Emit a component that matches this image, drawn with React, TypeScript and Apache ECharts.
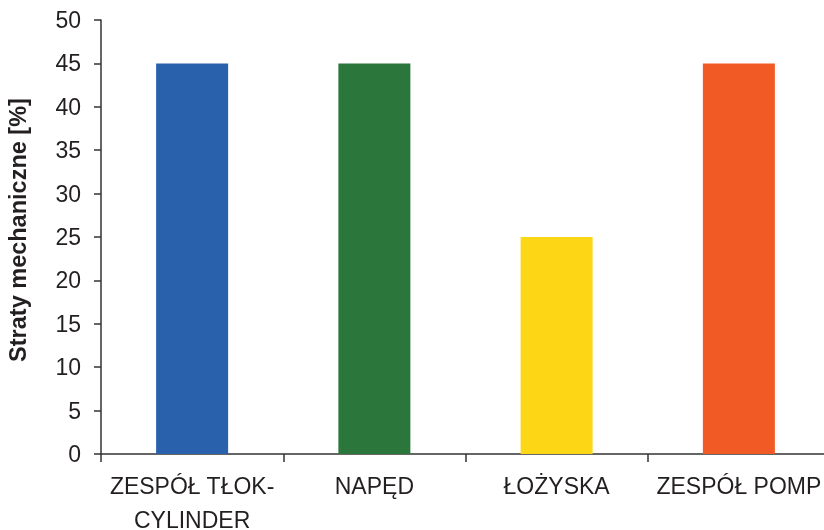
import React, { useEffect, useRef } from "react";
import * as echarts from "echarts";

const categories = ["ZESPÓŁ TŁOK-\nCYLINDER", "NAPĘD", "ŁOŻYSKA", "ZESPÓŁ POMP"];
const losses = [45, 45, 25, 45];
const barColors = ["#2a61ac", "#2b773b", "#fdd616", "#f15a24"];
const yTicks = { min: 0, max: 50, interval: 5 };

export default function App() {
  const ref = useRef<HTMLDivElement>(null);

  useEffect(() => {
    if (!ref.current) return;
    document.body.style.margin = "0";
    const chart = echarts.init(ref.current, undefined, { renderer: "svg" });
    const font = "Liberation Sans, Arial, sans-serif";
    chart.setOption({
      animation: false,
      grid: {
        left: 101,
        top: 20,
        bottom: 76,
        right: -6,
        containLabel: false,
        outerBoundsMode: "none",
      },
      xAxis: {
        type: "category",
        data: categories,
        axisLine: { lineStyle: { color: "#333333", width: 1.5 } },
        axisTick: { show: true, length: 8, lineStyle: { color: "#333333", width: 1.5 } },
        axisLabel: {
          margin: 15,
          color: "#231f20",
          fontSize: 23,
          lineHeight: 34,
          fontFamily: font,
          interval: 0,
        },
      },
      yAxis: {
        type: "value",
        min: yTicks.min,
        max: yTicks.max,
        interval: yTicks.interval,
        name: "Straty mechaniczne [%]",
        nameLocation: "middle",
        nameGap: 71,
        nameTextStyle: {
          fontSize: 23.5,
          fontWeight: "bold",
          color: "#231f20",
          fontFamily: font,
          padding: [0, 0, 0, 14],
        },
        axisLine: { show: true, lineStyle: { color: "#333333", width: 1.5 } },
        axisTick: { show: true, length: 7, lineStyle: { color: "#333333", width: 1.5 } },
        splitLine: { show: false },
        axisLabel: {
          margin: 20,
          color: "#231f20",
          fontSize: 23,
          fontFamily: font,
        },
      },
      series: [
        {
          type: "bar",
          barWidth: 72,
          data: losses.map((v, i) => ({ value: v, itemStyle: { color: barColors[i] } })),
        },
      ],
    });
    return () => chart.dispose();
  }, []);

  return (
    <div style={{ position: "fixed", left: 0, top: 0, width: 824, height: 530, overflow: "hidden" }}>
      <div ref={ref} style={{ width: 824, height: 530 }} />
    </div>
  );
}
